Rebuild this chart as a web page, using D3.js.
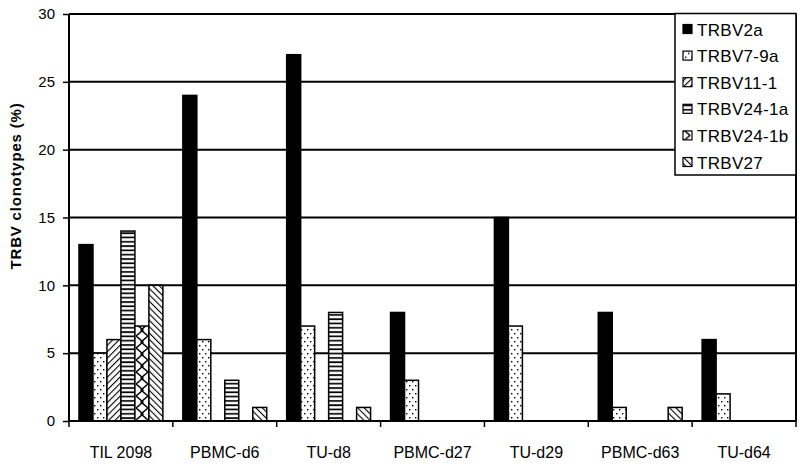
<!DOCTYPE html>
<html>
<head>
<meta charset="utf-8">
<script src="https://cdn.jsdelivr.net/npm/d3@7"></script>
<style>
  html, body { margin: 0; padding: 0; background: #fff; }
  svg { display: block; font-family: "Liberation Sans", Arial, sans-serif; }
</style>
</head>
<body>
<svg id="chart" width="800" height="466"></svg>
<script>
const categories = ["TIL 2098", "PBMC-d6", "TU-d8", "PBMC-d27", "TU-d29", "PBMC-d63", "TU-d64"];
const seriesNames = ["TRBV2a", "TRBV7-9a", "TRBV11-1", "TRBV24-1a", "TRBV24-1b", "TRBV27"];
const TRBV2a   = [13, 24, 27, 8, 15, 8, 6];
const TRBV7_9a = [5, 6, 7, 3, 7, 1, 2];
const TRBV11_1 = [6, 0, 0, 0, 0, 0, 0];
const TRBV24_1a = [14, 3, 8, 0, 0, 0, 0];
const TRBV24_1b = [7, 0, 0, 0, 0, 0, 0];
const TRBV27   = [10, 1, 1, 0, 0, 1, 0];
const yTicks = [0, 5, 10, 15, 20, 25, 30];

const seriesValues = [TRBV2a, TRBV7_9a, TRBV11_1, TRBV24_1a, TRBV24_1b, TRBV27];
const fills = ["#000", "url(#pDots)", "url(#pFwd)", "url(#pHoriz)", "url(#pLattice)", "url(#pBack)"];

const svg = d3.select("#chart");
const mLeft = 69, mRight = 796, mTop = 14, mBottom = 421;

// patterns
const defs = svg.append("defs");
const pd = defs.append("pattern").attr("id", "pDots").attr("patternUnits", "userSpaceOnUse")
  .attr("width", 6).attr("height", 8);
pd.append("rect").attr("width", 6).attr("height", 8).attr("fill", "#fff");
pd.append("rect").attr("x", 1).attr("y", 1).attr("width", 1.4).attr("height", 1.4).attr("fill", "#000");
pd.append("rect").attr("x", 4).attr("y", 5).attr("width", 1.4).attr("height", 1.4).attr("fill", "#000");

const pf = defs.append("pattern").attr("id", "pFwd").attr("patternUnits", "userSpaceOnUse")
  .attr("width", 4.5).attr("height", 4.5).attr("patternTransform", "rotate(45)");
pf.append("rect").attr("width", 4.5).attr("height", 4.5).attr("fill", "#fff");
pf.append("line").attr("x1", 0).attr("y1", 0).attr("x2", 0).attr("y2", 4.5).attr("stroke", "#000").attr("stroke-width", 2.2);

const pb = defs.append("pattern").attr("id", "pBack").attr("patternUnits", "userSpaceOnUse")
  .attr("width", 4.5).attr("height", 4.5).attr("patternTransform", "rotate(-45)");
pb.append("rect").attr("width", 4.5).attr("height", 4.5).attr("fill", "#fff");
pb.append("line").attr("x1", 0).attr("y1", 0).attr("x2", 0).attr("y2", 4.5).attr("stroke", "#000").attr("stroke-width", 2.2);

const ph = defs.append("pattern").attr("id", "pHoriz").attr("patternUnits", "userSpaceOnUse")
  .attr("width", 4).attr("height", 4.3);
ph.append("rect").attr("width", 4).attr("height", 4.3).attr("fill", "#fff");
ph.append("line").attr("x1", 0).attr("y1", 1).attr("x2", 4).attr("y2", 1).attr("stroke", "#000").attr("stroke-width", 1.7);

const pl = defs.append("pattern").attr("id", "pLattice").attr("patternUnits", "userSpaceOnUse")
  .attr("width", 13.9).attr("height", 12).attr("x", 135);
pl.append("rect").attr("width", 14).attr("height", 12).attr("fill", "#fff");
pl.append("path").attr("d", "M1,0 L8,6 L1,12 M13,0 L6,6 L13,12")
  .attr("stroke", "#000").attr("stroke-width", 1.5).attr("fill", "none");

const x = d3.scaleBand().domain(categories).range([mLeft, mRight]).padding(0);
const xs = d3.scaleBand().domain(seriesNames).range([0, x.bandwidth()]).paddingInner(0).paddingOuter(0.714);
const y = d3.scaleLinear().domain([0, 30]).range([mBottom, mTop]);

// gridlines
svg.append("g").selectAll("line").data(yTicks.filter(d => d > 0)).join("line")
  .attr("x1", mLeft).attr("x2", mRight)
  .attr("y1", d => y(d)).attr("y2", d => y(d))
  .attr("stroke", "#000").attr("stroke-width", 2);

// right border
svg.append("line").attr("x1", mRight).attr("x2", mRight).attr("y1", mTop).attr("y2", mBottom)
  .attr("stroke", "#000").attr("stroke-width", 2);

// bars
const data = [];
categories.forEach((c, i) => seriesNames.forEach((s, j) => {
  const v = seriesValues[j][i];
  if (v > 0) data.push({c, s, v, j});
}));
svg.append("g").selectAll("rect").data(data).join("rect")
  .attr("x", d => x(d.c) + xs(d.s))
  .attr("y", d => y(d.v))
  .attr("width", xs.bandwidth())
  .attr("height", d => y(0) - y(d.v))
  .attr("fill", d => fills[d.j])
  .attr("stroke", "#000").attr("stroke-width", 1.5);

// y axis
const yAxis = svg.append("g").attr("transform", `translate(${mLeft},0)`)
  .call(d3.axisLeft(y).tickValues(yTicks).tickSize(6).tickPadding(8));
yAxis.select(".domain").attr("stroke", "#000").attr("stroke-width", 2).attr("d", `M-0,${mTop}V${mBottom}`);
yAxis.selectAll(".tick line").attr("stroke", "#000").attr("stroke-width", 1.5);
yAxis.selectAll(".tick text").attr("font-size", 15).attr("fill", "#000")
  .attr("font-family", "'Liberation Sans', Arial, sans-serif");

// x axis
const xAxis = svg.append("g").attr("transform", `translate(0,${mBottom})`)
  .call(d3.axisBottom(x).tickSize(0).tickPadding(26));
xAxis.select(".domain").attr("stroke", "#000").attr("stroke-width", 2).attr("d", `M${mLeft},0H${mRight}`);
xAxis.selectAll(".tick text").attr("font-size", 16).attr("fill", "#000")
  .attr("font-family", "'Liberation Sans', Arial, sans-serif");
const bounds = categories.map(c => x(c)).concat([mRight]);
xAxis.append("g").selectAll("line").data(bounds).join("line")
  .attr("x1", d => d).attr("x2", d => d).attr("y1", 0).attr("y2", 6)
  .attr("stroke", "#000").attr("stroke-width", 1.5);

// y axis title
svg.append("text")
  .attr("transform", `translate(21,186) rotate(-90)`)
  .attr("text-anchor", "middle")
  .attr("font-size", 15).attr("font-weight", "bold").attr("letter-spacing", 0.8)
  .text("TRBV clonotypes (%)");

// legend
const lg = svg.append("g");
lg.append("rect").attr("x", 675).attr("y", 13.5).attr("width", 121).attr("height", 161.5)
  .attr("fill", "#fff").attr("stroke", "#000").attr("stroke-width", 1.5);
const items = lg.selectAll("g.item").data(seriesNames).join("g").attr("class", "item")
  .attr("transform", (d, i) => `translate(0,${29 + i * 26.6})`);
items.append("rect").attr("x", 683).attr("y", -4.5).attr("width", 9).attr("height", 9)
  .attr("fill", (d, i) => fills[i]).attr("stroke", "#000").attr("stroke-width", 1.2);
items.append("text").attr("x", 697).attr("y", 6.5).attr("font-size", 17).attr("fill", "#000")
  .attr("letter-spacing", 0.3)
  .text(d => d);
</script>
</body>
</html>
